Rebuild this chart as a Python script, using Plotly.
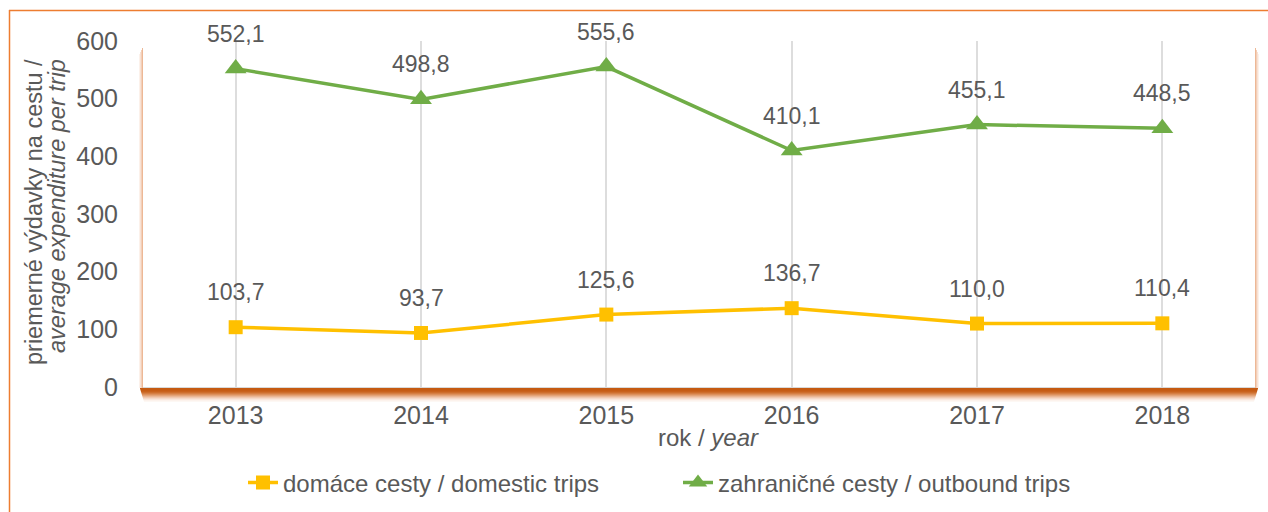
import plotly.graph_objects as go

years = ["2013", "2014", "2015", "2016", "2017", "2018"]
domestic = [103.7, 93.7, 125.6, 136.7, 110.0, 110.4]
outbound = [552.1, 498.8, 555.6, 410.1, 455.1, 448.5]
domestic_name = "domáce cesty / domestic trips"
outbound_name = "zahraničné cesty / outbound trips"
y_ticks = [0, 100, 200, 300, 400, 500, 600]

W, H = 1268, 512
ML, MR, MT, MB = 143, 13, 41, 125
PW = W - ML - MR
PH = H - MT - MB

def px_x(p):
    return (p - ML) / PW

def px_y(p):
    return (H - MB - p) / PH

FONT = "Liberation Sans, Arial, sans-serif"
GRAY = "#595959"

def fmt(v):
    return f"{v:.1f}".replace(".", ",")

fig = go.Figure()
fig.add_trace(go.Scatter(
    x=years, y=domestic, name=domestic_name, mode="lines+markers",
    line=dict(color="#FFC000", width=3.5),
    marker=dict(symbol="square", size=14, color="#FFC000"),
))
fig.add_trace(go.Scatter(
    x=years, y=outbound, name=outbound_name, mode="lines+markers",
    line=dict(color="#70AD47", width=3.5),
    marker=dict(symbol="triangle-up", size=19, color="#70AD47"),
))

annotations = []
for series in (domestic, outbound):
    for i, v in enumerate(series):
        annotations.append(dict(x=i, y=v, xref="x", yref="y", text=fmt(v), showarrow=False,
                                yshift=35, font=dict(size=23, color=GRAY, family=FONT)))

annotations.append(dict(
    x=px_x(34), y=px_y(212), xref="paper", yref="paper", xanchor="center", yanchor="middle",
    text="priemerné výdavky na cestu /",
    textangle=-90, showarrow=False, font=dict(size=23.5, color=GRAY, family=FONT)))
annotations.append(dict(
    x=px_x(57), y=px_y(206), xref="paper", yref="paper", xanchor="center", yanchor="middle",
    text="<i>average expenditure per trip</i>",
    textangle=-90, showarrow=False, font=dict(size=23.5, color=GRAY, family=FONT)))
annotations.append(dict(
    x=px_x(708), y=px_y(437), xref="paper", yref="paper", xanchor="center", yanchor="middle",
    text="rok / <i>year</i>", showarrow=False, font=dict(size=24, color=GRAY, family=FONT)))

shapes = []
# bottom shadow band (gradient rows)
band = ["#C55A11", "#C55A11", "#C65C14", "#C9621C", "#CE6E2C", "#D57E42", "#DC905C",
        "#E3A377", "#EAB694", "#F0C8AF", "#F5D9C8", "#F9E7DC", "#FCF2EC", "#FDF8F4"]
for i, c in enumerate(band):
    inset = i * 0.3
    shapes.append(dict(type="rect", xref="paper", yref="paper",
                       x0=px_x(140 + inset), x1=px_x(1258 - inset),
                       y0=px_y(388 + i), y1=px_y(389 + i),
                       line=dict(width=0), fillcolor=c, layer="below"))
# side shadows
side = ["#EDB896", "#F3CFB8", "#F8E2D5", "#FCF1EA"]
for i, c in enumerate(side):
    shapes.append(dict(type="rect", xref="paper", yref="paper",
                       x0=px_x(143 - (i + 1)), x1=px_x(143 - i),
                       y0=px_y(388), y1=px_y(48 + i * 2),
                       line=dict(width=0), fillcolor=c, layer="below"))
    shapes.append(dict(type="rect", xref="paper", yref="paper",
                       x0=px_x(1255 + i), x1=px_x(1255 + i + 1),
                       y0=px_y(388), y1=px_y(48 + i * 2),
                       line=dict(width=0), fillcolor=c, layer="below"))
# orange outer border (left + top)
shapes.append(dict(type="line", xref="paper", yref="paper",
                   x0=px_x(9.5), x1=px_x(9.5), y0=px_y(10), y1=px_y(H + 5),
                   line=dict(color="#ED7D31", width=1.5)))
shapes.append(dict(type="line", xref="paper", yref="paper",
                   x0=px_x(9), x1=px_x(W + 5), y0=px_y(10.5), y1=px_y(10.5),
                   line=dict(color="#ED7D31", width=1.5)))

fig.update_layout(
    width=W, height=H,
    margin=dict(l=ML, r=MR, t=MT, b=MB, autoexpand=False),
    paper_bgcolor="white", plot_bgcolor="white",
    font=dict(family=FONT, color=GRAY, size=24),
    showlegend=True,
    legend=dict(orientation="h", x=px_x(243), xanchor="left", y=px_y(483), yanchor="middle",
                font=dict(size=24, color=GRAY), traceorder="normal",
                entrywidth=390, entrywidthmode="pixels"),
    xaxis=dict(type="category", range=[-0.5, 5.5], showgrid=True, gridcolor="#DDDDDD",
               gridwidth=1.5, showline=True, linecolor="#D9D9D9", linewidth=1,
               ticks="", ticklabelstandoff=6, tickfont=dict(size=25, color=GRAY), fixedrange=True),
    yaxis=dict(range=[0, 600], tickvals=y_ticks, showgrid=False, zeroline=False,
               showline=False, ticks="", ticklabelstandoff=24,
               tickfont=dict(size=25, color=GRAY), fixedrange=True),
    annotations=annotations,
    shapes=shapes,
)

fig.write_html("out.html", config={"displayModeBar": False},
               post_script="document.body.style.margin='0';document.body.style.overflow='hidden';")
